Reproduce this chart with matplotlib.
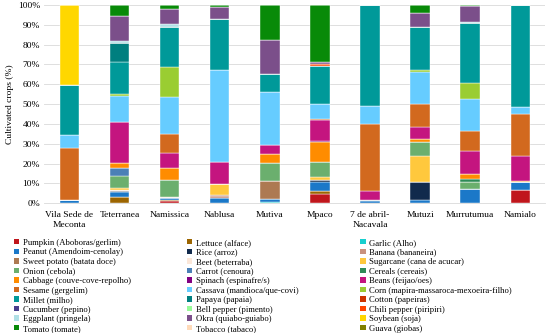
import numpy as np
import matplotlib
matplotlib.use('Agg')
import matplotlib.pyplot as plt
from matplotlib.patches import Patch

plt.rcParams['font.family'] = ['Liberation Serif', 'DejaVu Serif']

sites = ['Vila Sede de\nMeconta', 'Teterranea', 'Namissica', 'Nablusa', 'Mutiva',
         'Mpaco', '7 de abril-\nNacavala', 'Mutuzi', 'Murrutumua', 'Namialo']

# share of each crop per site (%), bottom of the stack first
pumpkin      = [0, 0, 1.0, 0, 0, 4.4, 0, 0, 0, 6.7]
lettuce      = [0, 3.0, 0.5, 0, 0, 1.5, 0, 0, 0, 0]
garlic       = [0, 0, 0, 0, 0.8, 0, 0, 0, 0, 0]
peanut       = [1.5, 2.7, 1.0, 2.4, 1.3, 4.9, 1.3, 1.8, 7.1, 4.0]
rice         = [0, 0.3, 0, 0, 0, 0.7, 0.3, 8.7, 0, 0]
banana       = [0, 0, 0, 1.2, 0, 0, 0, 0, 0, 0]
sweet_potato = [0, 0, 0, 0.7, 8.9, 0, 0, 0, 0, 0]
beet         = [0, 0.5, 0.7, 0, 0, 0, 0, 0, 0, 0]
sugarcane    = [0, 1.0, 0, 5.2, 0, 1.7, 0, 13.3, 0, 0]
onion        = [0, 6.4, 8.7, 0, 9.4, 7.6, 0, 7.1, 3.5, 0]
carrot       = [0, 4.0, 0, 0, 0, 0, 0, 0, 0, 0]
cereals      = [0, 0, 0, 0, 0, 0, 0, 0, 1.7, 0]
cabbage      = [0, 2.2, 5.7, 0, 4.4, 10.1, 0, 1.5, 2.4, 0.7]
spinach      = [0, 0, 0, 0, 0, 0.3, 0, 0, 0, 0]
beans        = [0, 20.8, 7.9, 11.3, 4.5, 10.6, 4.7, 5.9, 11.6, 12.6]
sesame       = [26.4, 0, 9.4, 0, 0, 0.5, 33.6, 11.9, 10.3, 21.2]
cassava      = [6.4, 13.3, 18.5, 46.7, 26.6, 7.9, 9.1, 16.1, 16.0, 3.2]
corn         = [0, 1.0, 15.1, 0, 0, 0, 0, 0.7, 7.9, 0]
millet       = [25.5, 16.0, 20.3, 25.4, 9.1, 19.3, 50.9, 22.0, 30.4, 51.6]
papaya       = [0, 9.7, 0, 0, 0, 0, 0, 0, 0, 0]
cotton       = [0, 0, 0, 0, 0, 0, 0, 0, 0, 0]
cucumber     = [0, 0, 0, 0, 0, 0, 0, 0, 0, 0]
bell_pepper  = [0, 0, 0, 0, 0, 0, 0, 0, 0, 0]
chili_pepper = [0, 0, 0, 0, 0, 0.7, 0, 0, 0, 0]
eggplant     = [0, 1.0, 1.7, 0, 0, 0, 0, 0, 0.7, 0]
okra         = [0, 12.6, 7.2, 6.2, 17.1, 1.0, 0, 6.7, 8.1, 0]
soybean      = [40.2, 0, 0, 0, 0, 0, 0, 0, 0, 0]
tomato       = [0, 5.5, 2.2, 1.0, 17.8, 28.9, 0, 4.2, 0.5, 0]
tobacco      = [0, 0, 0, 0, 0, 0, 0, 0, 0, 0]
guava        = [0, 0, 0, 0, 0, 0, 0, 0, 0, 0]

series = [
    ('Pumpkin (Aboboras/gerlim)', pumpkin, '#C0161C'),
    ('Lettuce (alface)', lettuce, '#9C6500'),
    ('Garlic (Alho)', garlic, '#17CFCF'),
    ('Peanut (Amendoim-cenolay)', peanut, '#1B78C8'),
    ('Rice (arroz)', rice, '#112A4C'),
    ('Banana (bananeira)', banana, '#C9917E'),
    ('Sweet potato (batata doce)', sweet_potato, '#AD7A52'),
    ('Beet (beterraba)', beet, '#FBE7D9'),
    ('Sugarcane (cana de acucar)', sugarcane, '#FFC83D'),
    ('Onion (cebola)', onion, '#6BAF6E'),
    ('Carrot (cenoura)', carrot, '#4B80B6'),
    ('Cereals (cereais)', cereals, '#2E8B57'),
    ('Cabbage (couve-cove-repolho)', cabbage, '#FF8C00'),
    ('Spinach (espinafre/s)', spinach, '#820082'),
    ('Beans (feijao/oes)', beans, '#C4157F'),
    ('Sesame (gergelim)', sesame, '#D2691E'),
    ('Cassava (mandioca/que-covi)', cassava, '#66CCFF'),
    ('Corn (mapira-massaroca-mexoeira-filho)', corn, '#9ACD32'),
    ('Millet (milho)', millet, '#009999'),
    ('Papaya (papaia)', papaya, '#007F7F'),
    ('Cotton (papeiras)', cotton, '#CC3300'),
    ('Cucumber (pepino)', cucumber, '#483D8B'),
    ('Bell pepper (pimento)', bell_pepper, '#98FB98'),
    ('Chili pepper (piripiri)', chili_pepper, '#FF4500'),
    ('Eggplant (pringela)', eggplant, '#B0E0E6'),
    ('Okra (quiabo-guiabo)', okra, '#7B4F8A'),
    ('Soybean (soja)', soybean, '#FFD700'),
    ('Tomato (tomate)', tomato, '#088A08'),
    ('Tobacco (tabaco)', tobacco, '#FFDAB9'),
    ('Guava (giobas)', guava, '#808000'),
]

fig = plt.figure(figsize=(5.46, 3.33), dpi=100)
ax = fig.add_axes([0.081, 0.39, 0.918, 0.595])

x = np.arange(len(sites))
totals = np.sum([np.array(v, dtype=float) for _, v, _ in series], axis=0)
bottom = np.zeros(len(sites))
for name, vals, col in series:
    h = np.array(vals, dtype=float) / totals * 100
    ax.bar(x, h, width=0.39, bottom=bottom, color=col,
           edgecolor='white', linewidth=0.3, zorder=3)
    bottom += h

ax.set_xlim(-0.5, len(sites) - 0.5)
ax.set_ylim(0, 100)
ax.set_yticks(np.arange(0, 101, 10))
ax.set_yticklabels(['%d%%' % v for v in range(0, 101, 10)], fontsize=6.8)
ax.set_xticks(x)
ax.set_xticklabels(sites, fontsize=6.8, linespacing=1.25)
ax.tick_params(axis='y', length=0, pad=3)
ax.tick_params(axis='x', length=0, pad=6)
ax.grid(axis='y', color='#D9D9D9', linewidth=0.6, zorder=0)
for s in ['top', 'right', 'left']:
    ax.spines[s].set_visible(False)
ax.spines['bottom'].set_color('#D9D9D9')
ax.spines['bottom'].set_linewidth(0.6)
ax.set_ylabel('Cultivated crops (%)', fontsize=6.8, labelpad=3)

# legend: three columns laid out row by row
handles = [Patch(facecolor=c, edgecolor='none') for _, _, c in series]
labels = [n for n, _, _ in series]
col_x = [0.026, 0.343, 0.66]
for k in range(3):
    leg = fig.legend(handles[k::3], labels[k::3], loc='upper left',
                     bbox_to_anchor=(col_x[k], 0.283), frameon=False,
                     fontsize=6.2, handlelength=0.6, handleheight=0.6,
                     handletextpad=0.4, labelspacing=0.18,
                     borderaxespad=0, borderpad=0)

fig.savefig('out.png', dpi=100)
